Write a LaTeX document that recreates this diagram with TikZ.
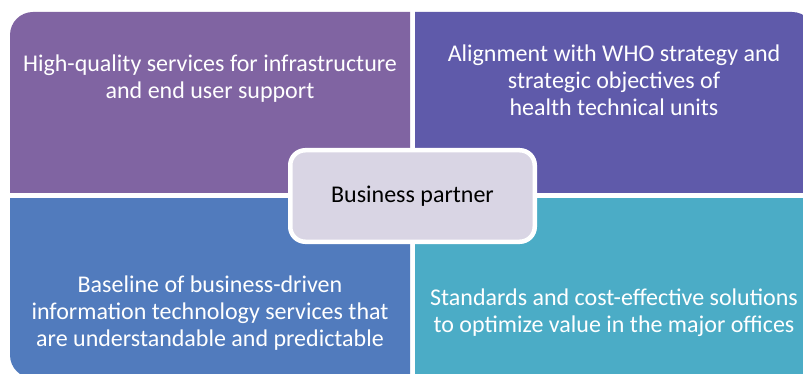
\documentclass[tikz,border=0pt]{standalone}
\usepackage{fontspec}
\setmainfont{Carlito}
\definecolor{qtl}{HTML}{8064A2}
\definecolor{qtr}{HTML}{5F5AAA}
\definecolor{qbl}{HTML}{517BBD}
\definecolor{qbr}{HTML}{4BACC6}
\definecolor{qcen}{HTML}{D9D5E4}
\tikzset{
  qtext/.style={text=white, align=center, font=\fontsize{24}{27}\selectfont, inner sep=0pt},
  centerbox/.style={rounded corners=15pt, draw=white, line width=4.5pt, fill=qcen,
    minimum width=244.5pt, minimum height=91.5pt, inner sep=0pt,
    font=\fontsize{24}{27}\selectfont, text=black}
}
\begin{document}
\begin{tikzpicture}[x=1pt,y=-1pt]
\clip (0,0) rectangle (803,374);
\fill[white] (0,0) rectangle (803,374);
% top-left quadrant
\begin{scope}
  \clip (10,12) rectangle (410,193);
  \fill[qtl, rounded corners=23pt] (10,12) rectangle (460,240);
\end{scope}
% top-right quadrant
\begin{scope}
  \clip (415,12) rectangle (815,193);
  \fill[qtr, rounded corners=23pt] (365,12) rectangle (815,240);
\end{scope}
% bottom-left quadrant
\begin{scope}
  \clip (10,199) rectangle (410,378);
  \fill[qbl, rounded corners=23pt] (10,150) rectangle (460,378);
\end{scope}
% bottom-right quadrant
\begin{scope}
  \clip (415,199) rectangle (815,378);
  \fill[qbr, rounded corners=23pt] (365,150) rectangle (815,378);
\end{scope}
\node[qtext] (tl) at (210,79) {High-quality services for infrastructure\\and end user support};
\node[qtext] (tr) at (614,80) {Alignment with WHO strategy and\\strategic objectives of\\health technical units};
\node[qtext] (bl) at (210,313) {Baseline of business-driven\\information technology services that\\are understandable and predictable};
\node[qtext] (br) at (614,313) {Standards and cost-effective solutions\\to optimize value in the major offices};
\node[centerbox] (bp) at (412.5,196) {Business partner};
\end{tikzpicture}
\end{document}
